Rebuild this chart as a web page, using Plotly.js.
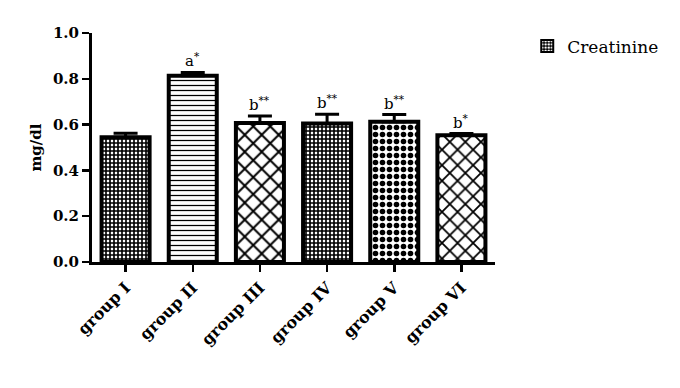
<!DOCTYPE html>
<html><head><meta charset="utf-8">
<script src="https://cdn.plot.ly/plotly-3.0.1.min.js"></script>
<style>html,body{margin:0;padding:0;background:#fff}#c{width:680px;height:388px}</style>
</head><body><div id="c"></div>
<script>
var groups = ["group I","group II","group III","group IV","group V","group VI"];
var means = [0.545, 0.813, 0.607, 0.605, 0.612, 0.553];
var errs = [0.017, 0.015, 0.031, 0.040, 0.032, 0.008];
var letters = ["", "a<sup>*</sup>", "b<sup>**</sup>", "b<sup>**</sup>", "b<sup>**</sup>", "b<sup>*</sup>"];
var shapes = ["+", "-", "x", "+", ".", "x"];
var sizes = [4, 5, 12, 4, 7, 11];
var solid = [0.65, 0.25, 0.3, 0.65, 0.5, 0.3];

var serif = "DejaVu Serif";
var traces = [{
  type: "bar", x: groups, y: means, showlegend: false,
  error_y: {type: "data", array: errs, visible: true, symmetric: false, arrayminus: errs.map(function(){return 0;}), color: "#000", thickness: 3, width: 12},
  marker: {color: "#fff", line: {color: "#000", width: 4},
    pattern: {shape: shapes, size: sizes, solidity: solid, fgcolor: "#000", bgcolor: "#fff", fillmode: "replace"}},
  hoverinfo: "none"
},{
  type: "bar", x: [groups[0]], y: [null], name: "Creatinine", showlegend: true,
  marker: {color: "#000", line: {color: "#000", width: 2},
    pattern: {shape: ".", size: 4, solidity: 0.5, fgcolor: "#fff", bgcolor: "#000"}}
}];
var ann = [];
groups.forEach(function(g, i){
  if (!letters[i]) return;
  ann.push({x: g, y: means[i] + errs[i], text: letters[i], showarrow: false, yanchor: "bottom", yshift: 0,
    font: {family: serif, size: 15, color: "#000"}});
});
var layout = {
  width: 680, height: 388,
  margin: {l: 92, r: 185, t: 33, b: 126},
  paper_bgcolor: "#fff", plot_bgcolor: "#fff",
  font: {family: serif, color: "#000"},
  barmode: "overlay", bargap: 0.285,
  showlegend: true,
  legend: {x: 1.08, y: 1.02, xanchor: "left", yanchor: "top", font: {family: serif, size: 17, color: "#000"}, bgcolor: "rgba(0,0,0,0)"},
  xaxis: {range: [-0.5, 5.5], showline: true, linecolor: "#000", linewidth: 3, ticks: "outside", ticklen: 7, tickwidth: 2.5, tickcolor: "#000",
    tickangle: -45, tickfont: {family: serif, size: 16, color: "#000", weight: "bold"}, showgrid: false, zeroline: false, fixedrange: true},
  yaxis: {range: [0, 1.0], dtick: 0.2, tickformat: ".1f", showline: true, linecolor: "#000", linewidth: 3, ticks: "outside", ticklen: 7, tickwidth: 2.5, tickcolor: "#000",
    tickfont: {family: serif, size: 15, color: "#000", weight: "bold"}, showgrid: false, zeroline: false,
    title: {text: "mg/dl", font: {family: serif, size: 15, color: "#000", weight: "bold"}, standoff: 8}},
  annotations: ann
};
Plotly.newPlot("c", traces, layout, {displayModeBar: false, staticPlot: true});
</script></body></html>
